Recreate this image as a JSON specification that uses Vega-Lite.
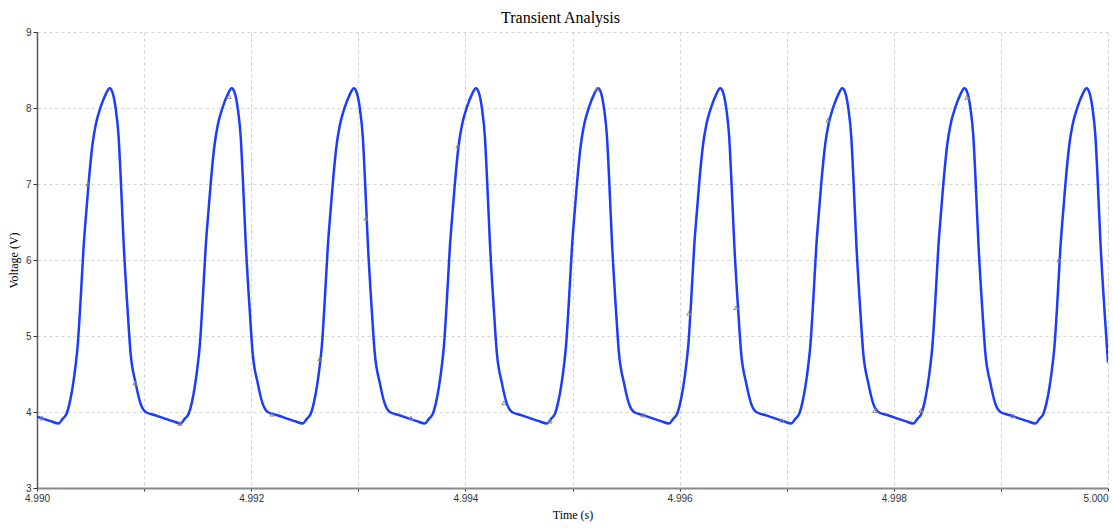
{
  "$schema": "https://vega.github.io/schema/vega-lite/v6.json",
  "width": 1071,
  "height": 456,
  "autosize": "none",
  "padding": {"left": 37, "top": 32, "right": 5, "bottom": 40},
  "background": "white",
  "title": {"text": "Transient Analysis", "font": "Liberation Serif", "fontSize": 16, "fontWeight": "normal", "color": "#000000", "offset": 1, "dx": -12, "anchor": "middle"},
  "config": {"view": {"stroke": null}},
  "datasets": {
    "wave": [
      {"t": 4.990000, "v": 3.94}, {"t": 4.990042, "v": 3.92}, {"t": 4.990126, "v": 3.88},
      {"t": 4.990202, "v": 3.85}, {"t": 4.990239, "v": 3.91}, {"t": 4.990277, "v": 3.98}, {"t": 4.990305, "v": 4.12}, {"t": 4.990333, "v": 4.33}, {"t": 4.990361, "v": 4.62}, {"t": 4.990379, "v": 4.86}, {"t": 4.990407, "v": 5.47}, {"t": 4.990435, "v": 6.17}, {"t": 4.990463, "v": 6.68}, {"t": 4.990482, "v": 7.01}, {"t": 4.990519, "v": 7.53}, {"t": 4.990547, "v": 7.77}, {"t": 4.990594, "v": 8.01}, {"t": 4.990641, "v": 8.18}, {"t": 4.990678, "v": 8.26}, {"t": 4.990706, "v": 8.20}, {"t": 4.990734, "v": 8.00}, {"t": 4.990762, "v": 7.62}, {"t": 4.990781, "v": 7.10}, {"t": 4.990809, "v": 6.22}, {"t": 4.990846, "v": 5.34}, {"t": 4.990874, "v": 4.77}, {"t": 4.990921, "v": 4.38}, {"t": 4.990967, "v": 4.11}, {"t": 4.991014, "v": 4.00}, {"t": 4.991098, "v": 3.96}, {"t": 4.991182, "v": 3.92}, {"t": 4.991266, "v": 3.88},
      {"t": 4.991342, "v": 3.85}, {"t": 4.991379, "v": 3.91}, {"t": 4.991417, "v": 3.98}, {"t": 4.991445, "v": 4.12}, {"t": 4.991473, "v": 4.33}, {"t": 4.991501, "v": 4.62}, {"t": 4.991519, "v": 4.86}, {"t": 4.991547, "v": 5.47}, {"t": 4.991575, "v": 6.17}, {"t": 4.991603, "v": 6.68}, {"t": 4.991622, "v": 7.01}, {"t": 4.991659, "v": 7.53}, {"t": 4.991687, "v": 7.77}, {"t": 4.991734, "v": 8.01}, {"t": 4.991781, "v": 8.18}, {"t": 4.991818, "v": 8.26}, {"t": 4.991846, "v": 8.20}, {"t": 4.991874, "v": 8.00}, {"t": 4.991902, "v": 7.62}, {"t": 4.991921, "v": 7.10}, {"t": 4.991949, "v": 6.22}, {"t": 4.991986, "v": 5.34}, {"t": 4.992014, "v": 4.77}, {"t": 4.992061, "v": 4.38}, {"t": 4.992107, "v": 4.11}, {"t": 4.992154, "v": 4.00}, {"t": 4.992238, "v": 3.96}, {"t": 4.992322, "v": 3.92}, {"t": 4.992406, "v": 3.88},
      {"t": 4.992482, "v": 3.85}, {"t": 4.992519, "v": 3.91}, {"t": 4.992557, "v": 3.98}, {"t": 4.992585, "v": 4.12}, {"t": 4.992613, "v": 4.33}, {"t": 4.992641, "v": 4.62}, {"t": 4.992659, "v": 4.86}, {"t": 4.992687, "v": 5.47}, {"t": 4.992715, "v": 6.17}, {"t": 4.992743, "v": 6.68}, {"t": 4.992762, "v": 7.01}, {"t": 4.992799, "v": 7.53}, {"t": 4.992827, "v": 7.77}, {"t": 4.992874, "v": 8.01}, {"t": 4.992921, "v": 8.18}, {"t": 4.992958, "v": 8.26}, {"t": 4.992986, "v": 8.20}, {"t": 4.993014, "v": 8.00}, {"t": 4.993042, "v": 7.62}, {"t": 4.993061, "v": 7.10}, {"t": 4.993089, "v": 6.22}, {"t": 4.993126, "v": 5.34}, {"t": 4.993154, "v": 4.77}, {"t": 4.993201, "v": 4.38}, {"t": 4.993247, "v": 4.11}, {"t": 4.993294, "v": 4.00}, {"t": 4.993378, "v": 3.96}, {"t": 4.993462, "v": 3.92}, {"t": 4.993546, "v": 3.88},
      {"t": 4.993622, "v": 3.85}, {"t": 4.993659, "v": 3.91}, {"t": 4.993697, "v": 3.98}, {"t": 4.993725, "v": 4.12}, {"t": 4.993753, "v": 4.33}, {"t": 4.993781, "v": 4.62}, {"t": 4.993799, "v": 4.86}, {"t": 4.993827, "v": 5.47}, {"t": 4.993855, "v": 6.17}, {"t": 4.993883, "v": 6.68}, {"t": 4.993902, "v": 7.01}, {"t": 4.993939, "v": 7.53}, {"t": 4.993967, "v": 7.77}, {"t": 4.994014, "v": 8.01}, {"t": 4.994061, "v": 8.18}, {"t": 4.994098, "v": 8.26}, {"t": 4.994126, "v": 8.20}, {"t": 4.994154, "v": 8.00}, {"t": 4.994182, "v": 7.62}, {"t": 4.994201, "v": 7.10}, {"t": 4.994229, "v": 6.22}, {"t": 4.994266, "v": 5.34}, {"t": 4.994294, "v": 4.77}, {"t": 4.994341, "v": 4.38}, {"t": 4.994387, "v": 4.11}, {"t": 4.994434, "v": 4.00}, {"t": 4.994518, "v": 3.96}, {"t": 4.994602, "v": 3.92}, {"t": 4.994686, "v": 3.88},
      {"t": 4.994762, "v": 3.85}, {"t": 4.994799, "v": 3.91}, {"t": 4.994837, "v": 3.98}, {"t": 4.994865, "v": 4.12}, {"t": 4.994893, "v": 4.33}, {"t": 4.994921, "v": 4.62}, {"t": 4.994939, "v": 4.86}, {"t": 4.994967, "v": 5.47}, {"t": 4.994995, "v": 6.17}, {"t": 4.995023, "v": 6.68}, {"t": 4.995042, "v": 7.01}, {"t": 4.995079, "v": 7.53}, {"t": 4.995107, "v": 7.77}, {"t": 4.995154, "v": 8.01}, {"t": 4.995201, "v": 8.18}, {"t": 4.995238, "v": 8.26}, {"t": 4.995266, "v": 8.20}, {"t": 4.995294, "v": 8.00}, {"t": 4.995322, "v": 7.62}, {"t": 4.995341, "v": 7.10}, {"t": 4.995369, "v": 6.22}, {"t": 4.995406, "v": 5.34}, {"t": 4.995434, "v": 4.77}, {"t": 4.995481, "v": 4.38}, {"t": 4.995527, "v": 4.11}, {"t": 4.995574, "v": 4.00}, {"t": 4.995658, "v": 3.96}, {"t": 4.995742, "v": 3.92}, {"t": 4.995826, "v": 3.88},
      {"t": 4.995903, "v": 3.85}, {"t": 4.995940, "v": 3.91}, {"t": 4.995978, "v": 3.98}, {"t": 4.996006, "v": 4.12}, {"t": 4.996034, "v": 4.33}, {"t": 4.996062, "v": 4.62}, {"t": 4.996080, "v": 4.86}, {"t": 4.996108, "v": 5.47}, {"t": 4.996136, "v": 6.17}, {"t": 4.996164, "v": 6.68}, {"t": 4.996183, "v": 7.01}, {"t": 4.996220, "v": 7.53}, {"t": 4.996248, "v": 7.77}, {"t": 4.996295, "v": 8.01}, {"t": 4.996342, "v": 8.18}, {"t": 4.996379, "v": 8.26}, {"t": 4.996407, "v": 8.20}, {"t": 4.996435, "v": 8.00}, {"t": 4.996463, "v": 7.62}, {"t": 4.996482, "v": 7.10}, {"t": 4.996510, "v": 6.22}, {"t": 4.996547, "v": 5.34}, {"t": 4.996575, "v": 4.77}, {"t": 4.996622, "v": 4.38}, {"t": 4.996668, "v": 4.11}, {"t": 4.996715, "v": 4.00}, {"t": 4.996799, "v": 3.96}, {"t": 4.996883, "v": 3.92}, {"t": 4.996967, "v": 3.88},
      {"t": 4.997043, "v": 3.85}, {"t": 4.997080, "v": 3.91}, {"t": 4.997118, "v": 3.98}, {"t": 4.997146, "v": 4.12}, {"t": 4.997174, "v": 4.33}, {"t": 4.997202, "v": 4.62}, {"t": 4.997220, "v": 4.86}, {"t": 4.997248, "v": 5.47}, {"t": 4.997276, "v": 6.17}, {"t": 4.997304, "v": 6.68}, {"t": 4.997323, "v": 7.01}, {"t": 4.997360, "v": 7.53}, {"t": 4.997388, "v": 7.77}, {"t": 4.997435, "v": 8.01}, {"t": 4.997482, "v": 8.18}, {"t": 4.997519, "v": 8.26}, {"t": 4.997547, "v": 8.20}, {"t": 4.997575, "v": 8.00}, {"t": 4.997603, "v": 7.62}, {"t": 4.997622, "v": 7.10}, {"t": 4.997650, "v": 6.22}, {"t": 4.997687, "v": 5.34}, {"t": 4.997715, "v": 4.77}, {"t": 4.997762, "v": 4.38}, {"t": 4.997808, "v": 4.11}, {"t": 4.997855, "v": 4.00}, {"t": 4.997939, "v": 3.96}, {"t": 4.998023, "v": 3.92}, {"t": 4.998107, "v": 3.88},
      {"t": 4.998183, "v": 3.85}, {"t": 4.998220, "v": 3.91}, {"t": 4.998258, "v": 3.98}, {"t": 4.998286, "v": 4.12}, {"t": 4.998314, "v": 4.33}, {"t": 4.998342, "v": 4.62}, {"t": 4.998360, "v": 4.86}, {"t": 4.998388, "v": 5.47}, {"t": 4.998416, "v": 6.17}, {"t": 4.998444, "v": 6.68}, {"t": 4.998463, "v": 7.01}, {"t": 4.998500, "v": 7.53}, {"t": 4.998528, "v": 7.77}, {"t": 4.998575, "v": 8.01}, {"t": 4.998622, "v": 8.18}, {"t": 4.998659, "v": 8.26}, {"t": 4.998687, "v": 8.20}, {"t": 4.998715, "v": 8.00}, {"t": 4.998743, "v": 7.62}, {"t": 4.998762, "v": 7.10}, {"t": 4.998790, "v": 6.22}, {"t": 4.998827, "v": 5.34}, {"t": 4.998855, "v": 4.77}, {"t": 4.998902, "v": 4.38}, {"t": 4.998948, "v": 4.11}, {"t": 4.998995, "v": 4.00}, {"t": 4.999079, "v": 3.96}, {"t": 4.999163, "v": 3.92}, {"t": 4.999247, "v": 3.88},
      {"t": 4.999323, "v": 3.85}, {"t": 4.999360, "v": 3.91}, {"t": 4.999398, "v": 3.98}, {"t": 4.999426, "v": 4.12}, {"t": 4.999454, "v": 4.33}, {"t": 4.999482, "v": 4.62}, {"t": 4.999500, "v": 4.86}, {"t": 4.999528, "v": 5.47}, {"t": 4.999556, "v": 6.17}, {"t": 4.999584, "v": 6.68}, {"t": 4.999603, "v": 7.01}, {"t": 4.999640, "v": 7.53}, {"t": 4.999668, "v": 7.77}, {"t": 4.999715, "v": 8.01}, {"t": 4.999762, "v": 8.18}, {"t": 4.999799, "v": 8.26}, {"t": 4.999827, "v": 8.20}, {"t": 4.999855, "v": 8.00}, {"t": 4.999883, "v": 7.62}, {"t": 4.999902, "v": 7.10}, {"t": 4.999930, "v": 6.22}, {"t": 4.999967, "v": 5.34}, {"t": 5.000000, "v": 4.65}
    ],
    "markers": [
      {"t": 4.990047, "v": 3.92}, {"t": 4.990476, "v": 7.00}, {"t": 4.990915, "v": 4.38}, {"t": 4.991335, "v": 3.85},
      {"t": 4.991793, "v": 8.15}, {"t": 4.992194, "v": 3.97}, {"t": 4.992642, "v": 4.70}, {"t": 4.993072, "v": 6.55},
      {"t": 4.993492, "v": 3.92}, {"t": 4.993931, "v": 7.50}, {"t": 4.994360, "v": 4.12}, {"t": 4.994790, "v": 3.88},
      {"t": 4.995229, "v": 8.25}, {"t": 4.995658, "v": 3.96}, {"t": 4.996088, "v": 5.30}, {"t": 4.996527, "v": 5.37},
      {"t": 4.996956, "v": 3.89}, {"t": 4.997386, "v": 7.84}, {"t": 4.997825, "v": 4.02}, {"t": 4.998254, "v": 4.02},
      {"t": 4.998683, "v": 8.14}, {"t": 4.999113, "v": 3.95}, {"t": 4.999543, "v": 6.00}
    ]
  },
  "encoding": {
    "x": {
      "field": "t", "type": "quantitative",
      "scale": {"domain": [4.990, 5.000], "nice": false, "zero": false},
      "axis": {
        "title": "Time (s)",
        "values": [4.990, 4.991, 4.992, 4.993, 4.994, 4.995, 4.996, 4.997, 4.998, 4.999, 5.000],
        "labelExpr": "round(datum.value * 1000) % 2 == 0 ? format(datum.value, '.3f') : ''",
        "labelAlign": {"condition": {"test": "datum.value > 4.9995", "value": "right"}, "value": "center"},
        "labelFont": "Liberation Sans", "labelFontSize": 10, "labelColor": "#333333", "labelPadding": 2,
        "tickSize": 3, "tickColor": "#333333",
        "domainColor": "#8a8a8a", "domainWidth": 2,
        "grid": true, "gridColor": "#d4d4d4", "gridDash": [3, 3], "gridWidth": 1,
        "titleFont": "Liberation Serif", "titleFontSize": 12, "titleFontWeight": "normal", "titleColor": "#000000", "titlePadding": 6
      }
    },
    "y": {
      "field": "v", "type": "quantitative",
      "scale": {"domain": [3, 9], "nice": false, "zero": false},
      "axis": {
        "title": "Voltage (V)",
        "values": [3, 4, 5, 6, 7, 8, 9],
        "labelFont": "Liberation Sans", "labelFontSize": 10, "labelColor": "#333333", "labelPadding": 2,
        "tickSize": 4, "tickColor": "#333333",
        "domainColor": "#555555", "domainWidth": 1.5,
        "grid": true, "gridColor": "#d4d4d4", "gridDash": [3, 3], "gridWidth": 1,
        "titleFont": "Liberation Serif", "titleFontSize": 12, "titleFontWeight": "normal", "titleColor": "#000000", "titlePadding": 5
      }
    }
  },
  "layer": [
    {
      "data": {"name": "wave"},
      "mark": {"type": "line", "color": "#1a3cff", "strokeWidth": 2.5, "interpolate": "monotone", "clip": true}
    },
    {
      "data": {"name": "markers"},
      "mark": {"type": "point", "shape": "triangle-up", "filled": false, "color": "#8a8a8a", "size": 18, "strokeWidth": 1, "opacity": 1}
    }
  ]
}
